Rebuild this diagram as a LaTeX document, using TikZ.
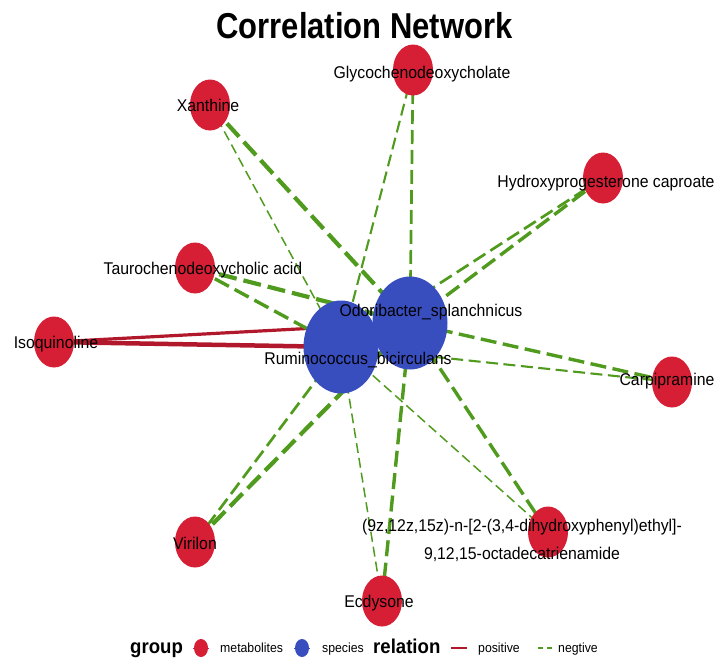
\documentclass[tikz,border=0pt]{standalone}
\usepackage{fontspec}
\setmainfont{Liberation Sans}
\newfontfamily\labfont{Liberation Sans}[FakeStretch=0.93]
\newfontfamily\headfont{Liberation Sans}[FakeStretch=0.86]
\usetikzlibrary{shapes.geometric}

% layers: edges under the nodes, texts above everything
\pgfdeclarelayer{edges}
\pgfdeclarelayer{texts}
\pgfsetlayers{edges,main,texts}

\definecolor{metred}{RGB}{214,30,53}
\definecolor{spblue}{RGB}{56,78,190}
\definecolor{posred}{RGB}{178,24,43}
\definecolor{neggreen}{RGB}{80,155,30}

\tikzset{
  metab/.style={ellipse, fill=metred, minimum width=40pt, minimum height=51pt, inner sep=0pt},
  species/.style={ellipse, fill=spblue, minimum width=75pt, minimum height=93pt, inner sep=0pt},
  lab/.style={inner sep=0pt, text height=12.3pt, text depth=0pt,
              font=\labfont\fontsize{17}{20}\selectfont},
  legtitle/.style={inner sep=0pt, anchor=base west,
              font=\labfont\bfseries\fontsize{20}{24}\selectfont},
  legtext/.style={inner sep=0pt, anchor=base west,
              font=\labfont\fontsize{13.2}{16}\selectfont},
  pos/.style={draw=posred, line width=#1},
  negXL/.style={draw=neggreen, line width=4.2pt, dash pattern=on 18pt off 7pt},
  negL/.style={draw=neggreen, line width=3.4pt, dash pattern=on 16pt off 6.5pt},
  negM/.style={draw=neggreen, line width=2.7pt, dash pattern=on 14pt off 6pt},
  negS/.style={draw=neggreen, line width=2.1pt, dash pattern=on 12pt off 5.5pt},
  negXS/.style={draw=neggreen, line width=1.5pt, dash pattern=on 10pt off 5pt},
}

\begin{document}
\begin{tikzpicture}[x=1pt, y=-1pt]
\useasboundingbox (0,0) rectangle (720,667);

% title
\node[inner sep=0pt, text height=26pt, text depth=0pt,
      font=\headfont\bfseries\fontsize{36}{40}\selectfont] (title) at (364.5,25) {Correlation Network};

% species
\node[species] (odo) at (410,323) {};
\node[species] (rum) at (341,347) {};

% metabolites
\node[metab] (xan) at (210,105) {};
\node[metab] (gly) at (413,70) {};
\node[metab] (hyd) at (603,178) {};
\node[metab] (tau) at (195,268) {};
\node[metab] (iso) at (54,342) {};
\node[metab] (car) at (672,382) {};
\node[metab] (vir) at (195,542) {};
\node[metab] (ode) at (548,532) {};
\node[metab] (ecd) at (382,601) {};

% correlation edges
\begin{pgfonlayer}{edges}
  \draw[pos=3.2pt] (iso.center) -- (odo.center);
  \draw[pos=4.5pt] (iso.center) -- (rum.center);
  \draw[negXL] (xan.center) -- (odo.center);
  \draw[negXS] (xan.center) -- (rum.center);
  \draw[negM]  (gly.center) -- (odo.center);
  \draw[negS]  (gly.center) -- (rum.center);
  \draw[negL]  (hyd.center) -- (odo.center);
  \draw[negM]  (hyd.center) -- (rum.center);
  \draw[negXL] (tau.center) -- (odo.center);
  \draw[negL]  (tau.center) -- (rum.center);
  \draw[negL]  (car.center) -- (odo.center);
  \draw[negS]  (car.center) -- (rum.center);
  \draw[negXL] (vir.center) -- (odo.center);
  \draw[negM]  (vir.center) -- (rum.center);
  \draw[negL]  (ode.center) -- (odo.center);
  \draw[negXS] (ode.center) -- (rum.center);
  \draw[negL]  (ecd.center) -- (odo.center);
  \draw[negXS] (ecd.center) -- (rum.center);
\end{pgfonlayer}

% labels
\begin{pgfonlayer}{texts}
  \node[lab] (odo-t) at (431,310) {Odoribacter\_splanchnicus};
  \node[lab] (rum-t) at (358,358) {Ruminococcus\_bicirculans};
  \node[lab] (xan-t) at (208,105) {Xanthine};
  \node[lab] (gly-t) at (422,72) {Glycochenodeoxycholate};
  \node[lab] (hyd-t) at (606,181) {Hydroxyprogesterone caproate};
  \node[lab] (tau-t) at (203,268) {Taurochenodeoxycholic acid};
  \node[lab] (iso-t) at (56,342) {Isoquinoline};
  \node[lab] (car-t) at (667,379) {Carpipramine};
  \node[lab] (vir-t) at (195,543) {Virilon};
  \node[lab] (ecd-t) at (379,601) {Ecdysone};
  \node[inner sep=0pt, align=center, font=\labfont\fontsize{17}{28}\selectfont]
    (ode-t) at (522,540) {(9z,12z,15z)-n-[2-(3,4-dihydroxyphenyl)ethyl]-\\9,12,15-octadecatrienamide};
\end{pgfonlayer}

% legend
\node[legtitle] (lg-group) at (130,653) {group};
\draw[metred, line width=0.8pt] (193,648) -- (209,648);
\node[ellipse, fill=metred, minimum width=14pt, minimum height=18pt, inner sep=0pt] (lg-met) at (201,648) {};
\node[legtext] (lg-met-t) at (220,652) {metabolites};
\draw[spblue, line width=0.8pt] (294,648) -- (310,648);
\node[ellipse, fill=spblue, minimum width=14pt, minimum height=18pt, inner sep=0pt] (lg-sp) at (302,648) {};
\node[legtext] (lg-sp-t) at (322,652) {species};
\node[legtitle] (lg-rel) at (373,653) {relation};
\draw[posred, line width=2pt] (451,648) -- (467,648);
\node[legtext] (lg-pos-t) at (478,652) {positive};
\draw[neggreen, line width=2pt, dash pattern=on 5pt off 4pt] (538,648) -- (553,648);
\node[legtext] (lg-neg-t) at (558,652) {negtive};
\end{tikzpicture}
\end{document}
